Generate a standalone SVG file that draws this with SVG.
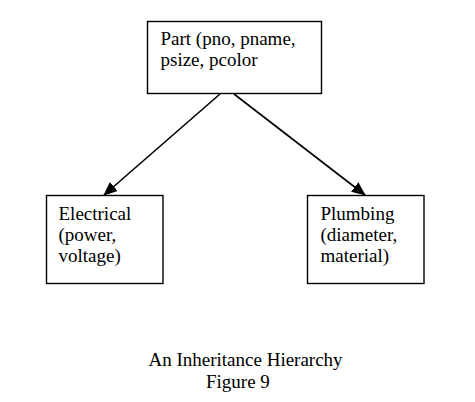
<svg xmlns="http://www.w3.org/2000/svg" width="475" height="402" viewBox="0 0 475 402">
<style>
.box{fill:#fff;stroke:#000;stroke-width:1.4}
.t{font-family:"Liberation Serif","Times New Roman",serif;font-size:19px;fill:#000}
.edge{stroke:#000;stroke-width:1.6;fill:none}
</style>
<defs>
<marker id="ah" markerWidth="14" markerHeight="12" refX="13" refY="6" orient="auto" markerUnits="userSpaceOnUse">
<path d="M0,0 L14,6 L0,12 Z" fill="#000"/>
</marker>
</defs>
<rect width="475" height="402" fill="#fff"/>
<g id="connectors">
<line class="edge" x1="220" y1="94" x2="104" y2="195" marker-end="url(#ah)"/>
<line class="edge" x1="234" y1="94" x2="365" y2="195" marker-end="url(#ah)"/>
</g>
<g id="part">
<rect class="box" x="147.5" y="21.5" width="174" height="72"/>
<text class="t" x="160.5" y="45">Part (pno, pname,</text>
<text class="t" x="160.5" y="66">psize, pcolor</text>
</g>
<g id="electrical">
<rect class="box" x="46.5" y="195.5" width="116.5" height="88"/>
<text class="t" x="58.5" y="220">Electrical</text>
<text class="t" x="58.5" y="241">(power,</text>
<text class="t" x="58.5" y="262">voltage)</text>
</g>
<g id="plumbing">
<rect class="box" x="307.5" y="195.5" width="116.5" height="88"/>
<text class="t" x="320.5" y="220">Plumbing</text>
<text class="t" x="320.5" y="241">(diameter,</text>
<text class="t" x="320.5" y="262">material)</text>
</g>
<g id="caption">
<text class="t" x="148.5" y="366">An Inheritance Hierarchy</text>
<text class="t" x="206" y="388">Figure 9</text>
</g>
</svg>
